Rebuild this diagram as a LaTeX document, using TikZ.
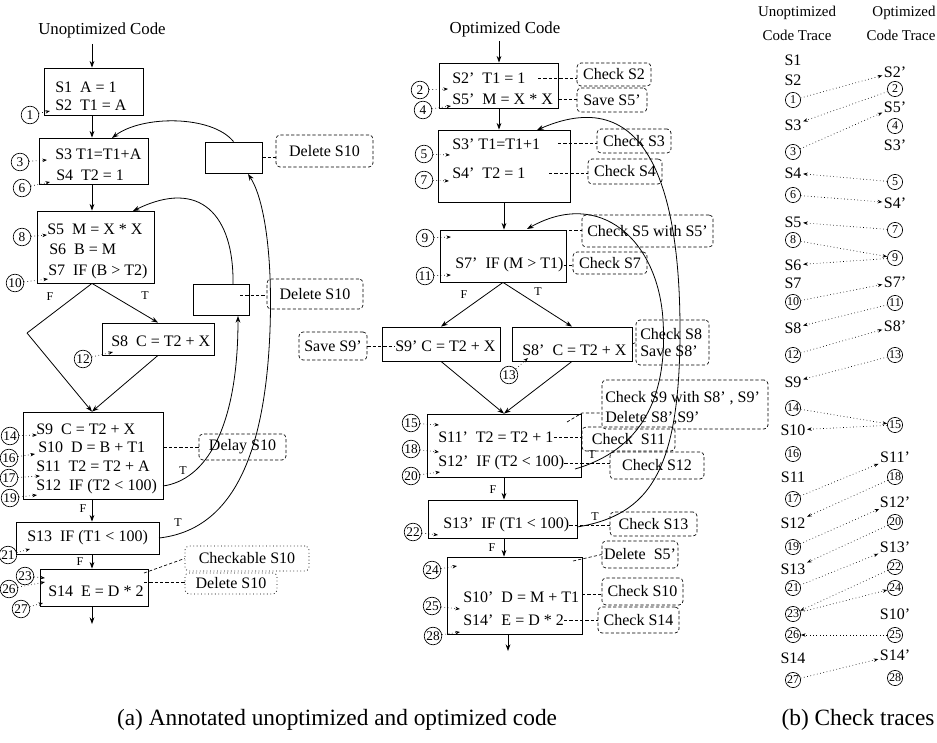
\documentclass[tikz,border=0pt]{standalone}
\usepackage{fontspec}
\setmainfont{Liberation Serif}
\usetikzlibrary{arrows.meta,fit}
\newcommand\bodyfont{\fontsize{12}{14}\selectfont}
\newcommand\titfont{\fontsize{12.6}{14}\selectfont}
\newcommand\hdfont{\fontsize{11.2}{13}\selectfont}
\newcommand\circfont{\fontsize{10}{10}\selectfont}
\newcommand\tcircfont{\fontsize{9}{9}\selectfont}
\newcommand\tffont{\fontsize{9}{10}\selectfont}
\newcommand\capfont{\fontsize{17.5}{19}\selectfont}
\begin{document}
\begin{tikzpicture}[x=0.75pt,y=-0.75pt,
  font=\bodyfont,
  box/.style={draw, line width=0.6pt, inner sep=0pt},
  tx/.style={inner sep=0pt, anchor=west},
  ttx/.style={inner sep=0pt},
  nt/.style={draw, line width=0.5pt, dash pattern=on 2.4pt off 1.6pt, rounded corners=3pt, inner sep=0pt},
  ntd/.style={draw, line width=0.6pt, dotted, rounded corners=3pt, inner sep=0pt},
  lead/.style={line width=0.5pt, dash pattern=on 2.4pt off 1.6pt},
  cn/.style={circle, draw, line width=0.5pt, inner sep=0pt, minimum size=13.2pt, font=\circfont},
  tcn/.style={circle, draw, line width=0.5pt, inner sep=0pt, minimum size=11.4pt, font=\tcircfont},
  flow/.style={line width=0.6pt, -{Stealth[length=5pt,width=3.6pt]}},
  dar/.style={line width=0.5pt, dotted, -{Stealth[length=3.5pt,width=2.6pt]}},
  tf/.style={font=\tffont, inner sep=0pt},
  ts/.style={inner sep=1pt}
]
\clip (0,0) rectangle (937,742);

% ================= Unoptimized code =================
\node[ttx, font=\titfont] (uT) at (102,30) {Unoptimized Code};
\coordinate (uTa) at (92,44);
\node[box, fit={(44,68) (143,115)}] (u1b) {};
\node[tx] (s1) at (55,87) {S1\ \ A = 1};
\node[tx] (s2) at (55,105) {S2\ \ T1 = A};
\node[box, fit={(39,138) (148,184)}] (u2b) {};
\node[tx] (s3) at (55,154) {S3 T1=T1+A};
\node[tx] (s4) at (56,175) {S4\ \ T2 = 1};
\node[box, fit={(37,211) (154,283)}] (u3b) {};
\node[tx] (s5) at (47,229) {S5\ \ M = X * X};
\node[tx] (s6) at (49,249) {S6\ \ B = M};
\node[tx] (s7) at (48,272) {S7\ \ IF (B > T2)};
\node[box, fit={(102,323) (214,355)}] (u8b) {};
\node[tx] (s8) at (111,341) {S8\ \ C = T2 + X};
\node[box, fit={(23,412) (163,499)}] (u4b) {};
\node[tx] (s9) at (36,429) {S9\ \ C = T2 + X};
\node[tx] (s10) at (38,447) {S10\ \ D = B + T1};
\node[tx] (s11) at (36,466) {S11\ \ T2 = T2 + A};
\node[tx] (s12) at (36,487) {S12\ \ IF (T2 < 100)};
\node[box, fit={(16,522) (159,554)}] (u5b) {};
\node[tx] (s13) at (27,538) {S13\ \ IF (T1 < 100)};
\node[box, fit={(40,569) (148,606)}] (u6b) {};
\node[tx] (s14) at (48,591) {S14\ \ E = D * 2};
\coordinate (uout) at (92,624);
\coordinate (udl) at (27,333);

\draw[flow] (uTa) -- (u1b.north -| uTa);
\draw[flow] (u1b.south -| uTa) -- (u2b.north -| uTa);
\draw[flow] (u2b.south -| uTa) -- (u3b.north -| uTa);
\draw[line width=0.6pt] (u3b.south -| uTa) -- (udl);
\draw[flow] (udl) -- (u4b.north -| uTa);
\draw[flow] (u3b.south -| uTa) -- (u8b.north);
\draw[flow] (u8b.south) -- (u4b.north -| uTa);
\draw[flow] (u4b.south -| uTa) -- (u5b.north -| uTa);
\draw[flow] (u5b.south -| uTa) -- (u6b.north -| uTa);
\draw[flow] (u6b.south -| uTa) -- (uout);
\node[tf] (uF1) at (50,297) {F};
\node[tf] (uT1) at (145,296) {T};
\node[tf] (uF2) at (83,509) {F};
\node[tf] (uF3) at (80,562) {F};
\node[tf] (uT2) at (183,471) {T};
\node[tf] (uT3) at (178,523) {T};

% small boxes and notes
\node[box, fit={(205,142) (262,173)}] (uA) {};
\node[box, fit={(193,284) (249,315)}] (uB) {};
\node[nt, fit={(276,135) (373,167)}] (nA) {};
\node[ttx] (nAt) at (nA.center) {Delete S10};
\draw[lead] (uA.east) -- (uA.east -| nA.west);
\node[nt, fit={(267,279) (363,309)}] (nB) {};
\node[ttx] (nBt) at (nB.center) {Delete S10};
\coordinate (uBl) at (240,295);
\draw[lead] (uBl) -- (uBl -| nB.west);
\node[nt, fit={(199,434) (286,460)}] (nD) {};
\node[ttx] (nDt) at (nD.center) {Delay S10};
\draw[lead] (s10.east -| u4b.east) -- (s10.east -| nD.west);
\node[ntd, fit={(185,546) (309,571)}] (nC) {};
\node[ttx] (nCt) at (nC.center) {Checkable S10};
\node[ntd, fit={(185,573) (277,594)}] (nE) {};
\node[ttx] (nEt) at (nE.center) {Delete S10};
\coordinate (u6l1) at (144,573);
\coordinate (u6l2) at (144,582);
\draw[lead] (u6l1) -- (nC.west);
\draw[lead] (u6l2) -- (u6l2 -| nE.west);

% curves
\coordinate (c1e) at (112,138);
\draw[flow] (uA.north) .. controls (212,115) and (142,115) .. (c1e);
\coordinate (c2s) at (233,284);
\coordinate (c2e) at (133,211);
\draw[flow] (c2s) .. controls (234,215) and (200,178) .. (c2e);
\coordinate (c3s) at (163,486);
\coordinate (c3e) at (238,316);
\draw[flow] (c3s) .. controls (205,480) and (238,430) .. (c3e);
\coordinate (c4s) at (159,538);
\coordinate (c4e) at (248,174);
\draw[flow] (c4s) .. controls (230,530) and (265,460) .. (270,330) .. controls (273,245) and (262,195) .. (c4e);

% circles (unoptimized)
\node[cn] (uc1) at (30,115) {1};
\node[cn] (uc3) at (20,162) {3};
\node[cn] (uc6) at (22,188) {6};
\node[cn] (uc8) at (22,237) {8};
\node[cn] (uc10) at (15,283) {10};
\node[cn] (uc12) at (83,359) {12};
\node[cn] (uc14) at (10,436) {14};
\node[cn] (uc16) at (9,458) {16};
\node[cn] (uc17) at (9,478) {17};
\node[cn] (uc19) at (10,498) {19};
\node[cn] (uc21) at (8,555) {21};
\node[cn] (uc23) at (25,576) {23};
\node[cn] (uc26) at (9,589) {26};
\node[cn] (uc27) at (21,609) {27};
\coordinate (uc1e) at (50,111);
\coordinate (uc3e) at (47,160);
\coordinate (uc6e) at (50,182);
\coordinate (uc8e) at (47,235);
\coordinate (uc10e) at (48,279);
\coordinate (uc12e) at (113,352);
\coordinate (uc14e) at (37,435);
\coordinate (uc16e) at (35,454);
\coordinate (uc17e) at (40,476);
\coordinate (uc19e) at (37,495);
\coordinate (uc21e) at (30,549);
\coordinate (uc23e) at (45,578);
\coordinate (uc26e) at (45,582);
\coordinate (uc27e) at (43,603);
\foreach \n in {1,3,6,8,10,12,14,16,17,19,21,23,26,27}{\draw[dar] (uc\n) -- (uc\n e);}

% ================= Optimized code =================
\node[ttx, font=\titfont] (oT) at (505,29) {Optimized Code};
\coordinate (oTa) at (499,41);
\node[box, fit={(439,63) (558,108)}] (o1b) {};
\node[tx] (p2) at (452,78) {S2’\ \ T1 = 1};
\node[tx] (p5) at (452,99) {S5’\ \ M = X * X};
\node[box, fit={(438,130) (570,202)}] (o2b) {};
\node[tx] (p3) at (452,144) {S3’ T1=T1+1};
\node[tx] (p4) at (452,173) {S4’\ \ T2 = 1};
\node[box, fit={(440,230) (566,282)}] (o3b) {};
\node[tx] (p7) at (455,265) {S7’\ \ IF (M > T1)};
\node[box, fit={(382,327) (500,361)}] (o9b) {};
\node[tx] (p9) at (395,346) {S9’ C = T2 + X};
\node[box, fit={(512,327) (632,361)}] (o8b) {};
\node[tx] (p8) at (522,350) {S8’\ \ C = T2 + X};
\node[box, fit={(427,414) (581,477)}] (o4b) {};
\node[tx] (p11) at (438,437) {S11’\ \ T2 = T2 + 1};
\node[tx] (p12) at (438,463) {S12’\ \ IF (T2 < 100)};
\node[box, fit={(428,500) (577,538)}] (o5b) {};
\node[tx] (p13) at (443,525) {S13’\ \ IF (T1 < 100)};
\node[box, fit={(447,557) (582,634)}] (o6b) {};
\node[tx] (p10) at (463,597) {S10’\ \ D = M + T1};
\node[tx] (p14) at (463,620) {S14’\ \ E = D * 2};
\coordinate (oout) at (508,651);

\draw[flow] (oTa) -- (o1b.north -| oTa);
\draw[flow] (o1b.south -| oTa) -- (o2b.north -| oTa);
\draw[flow] (o2b.south) -- (o3b.north -| o2b.south);
\draw[flow] (o3b.south) -- (o9b.north);
\draw[flow] (o3b.south) -- (o8b.north);
\draw[flow] (o9b.south) -- (o4b.north);
\draw[flow] (o8b.south) -- (o4b.north);
\draw[flow] (o4b.south) -- (o5b.north -| o4b.south);
\draw[flow] (o4b.south |- o5b.south) -- (o6b.north -| o4b.south);
\draw[flow] (o6b.south -| oout) -- (oout);
\node[tf] (oF1) at (464,295) {F};
\node[tf] (oT1) at (538,292) {T};
\node[tf] (oF2) at (493,490) {F};
\node[tf] (oF3) at (492,548) {F};
\node[tf] (oT2) at (592,455) {T};
\node[tf] (oT3) at (595,517) {T};

% notes (optimized)
\node[nt, fit={(577,63) (651,86)}] (nS2) {};
\node[ttx] (nS2t) at (nS2.center) {Check S2};
\coordinate (l2) at (538,78);
\draw[lead] (l2) -- (l2 -| nS2.west);
\node[nt, fit={(577,88) (647,112)}] (nS5) {};
\node[ttx] (nS5t) at (nS5.center) {Save S5’};
\draw[lead] (o1b.east |- p5.east) -- (p5.east -| nS5.west);
\node[nt, fit={(597,129) (671,153)}] (nS3) {};
\node[ttx] (nS3t) at (nS3.center) {Check S3};
\coordinate (l3) at (558,143);
\draw[lead] (l3) -- (l3 -| nS3.west);
\node[nt, fit={(588,159) (662,184)}] (nS4) {};
\node[ttx] (nS4t) at (nS4.center) {Check S4};
\coordinate (l4) at (549,173);
\draw[lead] (l4) -- (l4 -| nS4.west);
\node[nt, fit={(582,215) (713,247)}] (nS55) {};
\node[ttx] (nS55t) at (nS55.center) {Check S5 with S5’};
\coordinate (l55) at (553,230);
\draw[lead] (l55) -- (l55 -| nS55.west);
\node[nt, fit={(573,252) (647,274)}] (nS7) {};
\node[ttx] (nS7t) at (nS7.center) {Check S7};
\draw[lead] (p7.east) -- (p7.east -| nS7.west);
\node[nt, fit={(299,332) (367,360)}] (nSv9) {};
\node[ttx] (nSv9t) at (nSv9.center) {Save S9’};
\draw[lead] (nSv9.east) -- (p9.west);
\node[nt, fit={(636,320) (709,365)}] (nS8) {};
\node[tx] (nS8a) at (640,334) {Check S8};
\node[tx] (nS8b) at (640,351) {Save S8’};
\draw[lead] (o8b.east) -- (nS8.west);
\node[nt, fit={(602,380) (768,429)}] (nS9) {};
\node[tx] (nS9a) at (605,398) {Check S9 with S8’ , S9’};
\node[tx] (nS9b) at (605,418) {Delete S8’,S9’};
\coordinate (l9a) at (567,422);
\coordinate (l9b) at (582,413);
\draw[lead] (l9a) -- (l9b) -- (l9b -| nS9.west);
\node[nt, fit={(582,427) (675,451)}] (nS11) {};
\node[ttx] (nS11t) at (nS11.center) {Check\ \ S11};
\draw[lead] (p11.east) -- (p11.east -| nS11.west);
\node[nt, fit={(610,452) (704,479)}] (nS12) {};
\node[ttx] (nS12t) at (nS12.center) {Check S12};
\draw[lead] (p12.east) -- (p12.east -| nS12.west);
\node[nt, fit={(610,512) (697,536)}] (nS13) {};
\node[ttx] (nS13t) at (nS13.center) {Check S13};
\draw[lead] (p13.east) -- (p13.east -| nS13.west);
\node[nt, fit={(602,541) (678,568)}] (nD5) {};
\node[ttx] (nD5t) at (nD5.center) {Delete\ \ S5’};
\coordinate (l5) at (573,561);
\draw[lead] (l5) -- (nD5.west);
\node[nt, fit={(602,578) (683,605)}] (nC10) {};
\node[ttx] (nC10t) at (nC10.center) {Check S10};
\coordinate (l10) at (582,594);
\draw[lead] (l10) -- (l10 -| nC10.west);
\node[nt, fit={(598,607) (679,633)}] (nC14) {};
\node[ttx] (nC14t) at (nC14.center) {Check S14};
\draw[lead] (p14.east) -- (p14.east -| nC14.west);

% curves (optimized)
\coordinate (c5s) at (575,469);
\coordinate (c5e) at (527,229);
\draw[flow] (c5s) .. controls (640,450) and (668,400) .. (663,320) .. controls (658,240) and (600,188) .. (c5e);
\coordinate (c6s) at (577,527);
\coordinate (c6e) at (537,130);
\draw[flow] (c6s) .. controls (650,515) and (680,470) .. (680,330) .. controls (680,200) and (652,80) .. (c6e);

% circles (optimized)
\node[cn] (oc2) at (420,90) {2};
\node[cn] (oc4) at (423,110) {4};
\node[cn] (oc5) at (424,154) {5};
\node[cn] (oc7) at (424,180) {7};
\node[cn] (oc9) at (425,238) {9};
\node[cn] (oc11) at (425,276) {11};
\node[cn] (oc13) at (509,375) {13};
\node[cn] (oc15) at (411,423) {15};
\node[cn] (oc18) at (411,449) {18};
\node[cn] (oc20) at (411,476) {20};
\node[cn] (oc22) at (413,532) {22};
\node[cn] (oc24) at (432,570) {24};
\node[cn] (oc25) at (432,606) {25};
\node[cn] (oc28) at (433,636) {28};
\coordinate (oc2e) at (448,89);
\coordinate (oc4e) at (451,106);
\coordinate (oc5e) at (450,155);
\coordinate (oc7e) at (449,181);
\coordinate (oc9e) at (451,237);
\coordinate (oc11e) at (451,275);
\coordinate (oc13e) at (528,358);
\coordinate (oc15e) at (439,425);
\coordinate (oc18e) at (439,452);
\coordinate (oc20e) at (440,472);
\coordinate (oc22e) at (438,535);
\coordinate (oc24e) at (457,566);
\coordinate (oc25e) at (460,609);
\coordinate (oc28e) at (460,632);
\foreach \n in {2,4,5,7,9,11,13,15,18,20,22,24,25,28}{\draw[dar] (oc\n) -- (oc\n e);}

% ================= Check traces =================
\node[ttx, font=\hdfont] (hU1) at (797,13) {Unoptimized};
\node[ttx, font=\hdfont] (hU2) at (797,35) {Code Trace};
\node[ttx, font=\hdfont] (hO1) at (904,13) {Optimized};
\node[ttx, font=\hdfont] (hO2) at (901,35) {Code Trace};

\foreach \lab/\y in {1/60,2/80,3/125,4/173,5/222,6/265,7/283,8/328,9/382,10/430,11/477,12/523,13/569,14/658}
  {\node[ts] (tS\lab) at (793,\y) {S\lab};}
\foreach \n/\y in {1/100,3/152,6/195,8/240,10/302,12/355,14/408,16/454,17/499,19/547,21/588,23/614,26/635,27/680}
  {\node[tcn] (tc\n) at (793,\y) {\n};}
\foreach \lab/\y in {2/72,5/107,3/145,4/203,7/282,8/326,11/457,12/502,13/547,10/614,14/655}
  {\node[ts] (tS\lab p) at (895,\y) {S\lab’};}
\foreach \n/\y in {2/89,4/126,5/182,7/230,9/258,11/303,13/355,15/425,18/477,20/522,22/567,24/588,25/635,28/678}
  {\node[tcn] (tc\n) at (895,\y) {\n};}

\draw[dar] (tc1) -- (tS2p);
\draw[dar] (tc2) -- (tS3);
\draw[dar] (tc3) -- (tS5p);
\draw[dar] (tc5) -- (tS4);
\draw[dar] (tc6) -- (tS4p);
\draw[dar] (tc7) -- (tS5);
\draw[dar] (tc8) -- (tc9);
\draw[dar] (tc9) -- (tS6);
\draw[dar] (tc10) -- (tS7p);
\draw[dar] (tc11) -- (tS8);
\draw[dar] (tc12) -- (tS8p);
\draw[dar] (tc13) -- (tS9);
\draw[dar] (tc14) -- (tc15);
\draw[dar] (tc15) -- (tS10);
\draw[dar] (tc17) -- (tS11p);
\draw[dar] (tc18) -- (tS12);
\draw[dar] (tc19) -- (tS12p);
\draw[dar] (tc20) -- (tS13);
\draw[dar] (tc21) -- (tS13p);
\draw[dar] (tc22) -- (tc23);
\draw[dar] (tc23) -- (tc24);
\draw[dar] (tc25) -- (tc26);
\draw[dar] (tc27) -- (tS14p);

% captions
\node[ttx, font=\capfont] (capA) at (337,720) {(a) Annotated unoptimized and optimized code};
\node[ttx, font=\capfont] (capB) at (858,720) {(b) Check traces};
\end{tikzpicture}
\end{document}
